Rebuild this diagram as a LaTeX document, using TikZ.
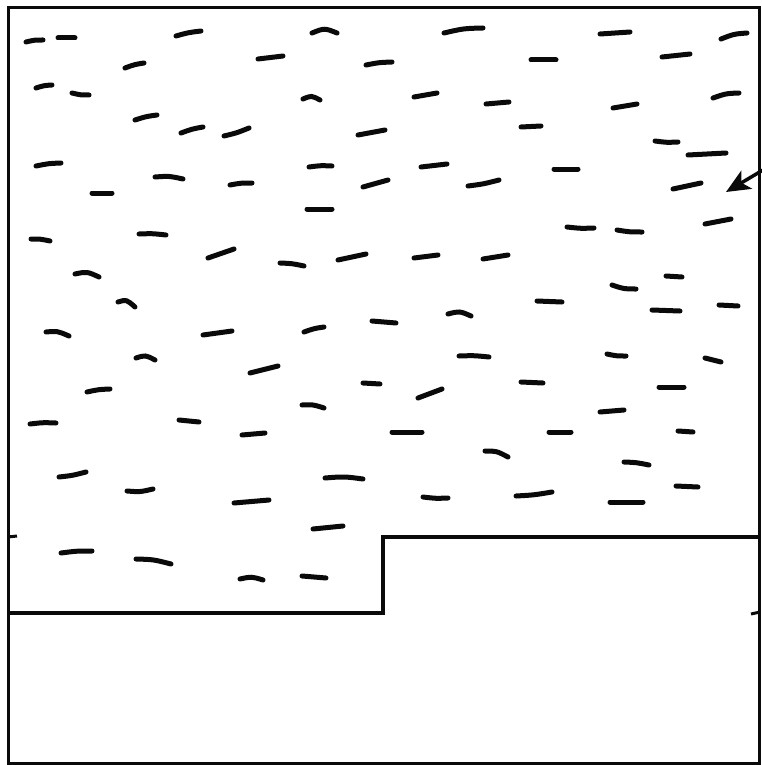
\documentclass[tikz,border=0pt]{standalone}
\usepackage{tikz}
\usetikzlibrary{arrows.meta}
\definecolor{InkCol}{RGB}{10,10,10}
\tikzset{
  ln_frame/.style={draw=InkCol,line width=3pt,line join=miter},
  ln_step/.style={draw=InkCol,line width=3.6pt,line join=miter},
  ln_wave/.style={draw=InkCol,line width=5pt,line cap=round},
  ln_tick/.style={draw=InkCol,line width=3pt},
  arr/.style={draw=InkCol,line width=3.5pt,-{Stealth[length=24pt,width=21pt,inset=6pt]}},
}

\begin{document}
\begin{tikzpicture}[x=1pt,y=-1pt]
\useasboundingbox (0,0) rectangle (762,765);
% frame
\draw[ln_frame](8,8) rectangle (759,763);
% step
\draw[ln_step](8,613)--(383,613)--(383,537)--(760,537);
\draw[ln_tick](8,537)--(17,536);
\draw[ln_tick](751,614)--(760,612);
% waves: x1/y1/x2/y2/arch
\foreach \a/\b/\c/\d/\h in {
  26/42/43/40/1, 58/38/75/38/0, 176/36/201/31/1, 312/33/337/33/5,
  258/59/283/56/0, 125/68/144/63/1, 366/65/392/62/1, 36/88/52/85/1,
  72/93/89/95/-1, 303/99/320/100/4, 135/120/157/115/1, 181/133/203/127/1,
  224/136/249/128/-1, 358/135/385/130/0, 36/166/61/163/1, 155/177/183/179/2,
  230/185/252/183/1, 92/193/112/193/0, 309/167/332/166/1, 363/187/388/180/0,
  307/209/332/209/0, 31/239/50/241/1, 139/234/166/235/1, 208/258/234/249/0,
  280/263/304/266/1, 338/260/366/254/0,
  444/33/483/28/2, 600/34/630/32/0, 721/39/747/33/2, 531/60/556/60/0,
  662/57/690/54/0, 414/97/437/93/0, 486/104/509/102/0, 613/108/637/104/0,
  713/98/739/93/2, 521/127/541/126/0, 655/141/678/142/-1, 688/155/726/153/0,
  421/167/447/164/0, 468/186/499/180/-1, 554/169/578/169/0, 673/189/701/183/0,
  567/227/594/228/-1, 617/230/642/232/-1, 705/224/731/219/0, 414/258/438/255/0,
  483/259/508/255/0,
  75/274/99/277/4, 118/302/135/307/5, 46/332/69/336/3, 203/335/232/331/0,
  304/332/324/327/1, 372/321/396/323/0, 136/358/155/360/4, 250/373/278/366/0,
  363/383/380/384/0, 87/392/110/389/1, 302/405/324/408/2, 30/424/56/423/1,
  179/420/199/422/0, 242/435/265/433/0, 59/477/86/472/-1, 127/491/153/489/-2,
  234/503/269/500/0, 325/478/363/479/2, 313/529/343/526/0,
  666/276/682/277/0, 612/285/636/289/-2, 537/301/562/302/0, 448/314/471/316/4,
  652/310/680/311/0, 719/305/738/306/0, 459/356/489/357/1, 607/354/626/356/-1,
  705/358/721/362/0, 521/382/543/383/0, 659/387/684/387/0, 418/398/442/389/0,
  600/412/624/410/0, 392/432/422/432/0, 549/432/571/432/0, 678/431/693/432/0,
  485/451/508/457/3, 624/462/649/465/1, 676/486/698/487/0, 423/497/448/498/-1,
  516/496/552/492/-1, 610/502/643/502/0,
  61/553/92/551/1, 136/559/171/564/2, 240/579/263/580/3, 302/576/326/578/0}
  {\draw[ln_wave](\a,\b) .. controls ({(\a+\c)/2},{(\b+\d)/2-\h}) .. (\c,\d);}
% arrow
\coordinate (arrS) at (763,170);
\coordinate (arrE) at (726,192);
\draw[arr](arrS)--(arrE);
\end{tikzpicture}
\end{document}
